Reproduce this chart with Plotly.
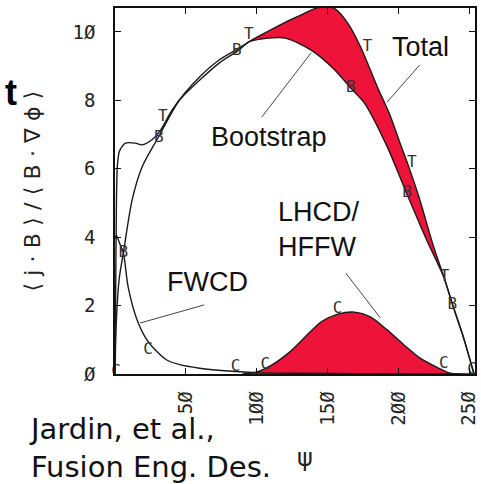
import plotly.graph_objects as go

# ---- data ----
boot_x = [0, 1.0, 3.0, 5.9, 12.1, 19.1, 30.3, 45.6, 60, 73.5, 87.4, 94.4, 108.4, 120.2,
          138.4, 155.1, 166.3, 176.0, 192.1, 203.9, 219.9, 231.8, 238.1, 245.7, 253.3]
boot_y = [0, 1.6, 2.8, 3.54, 5.09, 6.05, 6.90, 8.01, 8.6, 9.09, 9.47, 9.71, 9.82, 9.82,
          9.47, 8.89, 8.36, 7.92, 6.64, 5.47, 3.92, 2.85, 2.02, 1.08, 0]

total_x = [0, 0.5, 1.0, 1.7, 3.0, 5.2, 7.3, 14.2, 19.1, 26.1, 31.7, 40, 49, 60, 73.5, 87.4,
           94.4, 108, 120.4, 131.4, 141, 148, 155, 164.2, 173.3, 185.1, 193.5, 201.1, 208.1,
           214.4, 224.9, 231.8, 238.1, 245.7, 253.3]
total_y = [0, 2.5, 5.0, 6.1, 6.5, 6.66, 6.75, 6.75, 6.70, 6.85, 7.1, 7.7, 8.2, 8.7, 9.18, 9.52,
           9.71, 10.02, 10.29, 10.5, 10.68, 10.74, 10.68, 10.26, 9.56, 8.39, 7.62, 6.75, 5.96,
           5.18, 3.71, 2.87, 2.05, 1.1, 0]

fwcd_x = [0, 1.0, 3.0, 5.9, 9.3, 15.6, 22.6, 29, 36.5, 45, 59.6, 82.6, 100, 130, 170, 253]
fwcd_y = [3.95, 4.05, 3.85, 3.54, 2.54, 1.58, 0.99, 0.68, 0.41, 0.28, 0.17, 0.08, 0.04, 0.02, 0.01, 0]

lhcd_x = [90, 99.3, 110.5, 122.3, 134.1, 145.3, 157.2, 169.0, 180.2, 192.0, 203.9, 215.0, 226.9, 236, 245]
lhcd_y = [0, 0.05, 0.26, 0.61, 1.08, 1.52, 1.75, 1.81, 1.67, 1.29, 0.85, 0.47, 0.20, 0.03, 0]

# symbols from the original plot
b_mark_x = [5.9, 31, 86, 166.3, 206, 238]
b_mark_y = [3.54, 6.9, 9.45, 8.36, 5.29, 2.02]
t_mark_x = [33.8, 94.4, 178, 209.5, 232.5]
t_mark_y = [7.51, 9.91, 9.56, 6.17, 2.84]
c_mark_x = [0.8, 23.3, 85, 106, 157, 232, 252]
c_mark_y = [0.05, 0.7, 0.2, 0.26, 1.9, 0.3, 0.12]

x_ticks = [50, 100, 150, 200, 250]
x_tick_text = ["5Ø", "1ØØ", "15Ø", "2ØØ", "25Ø"]
y_ticks = [0, 2, 4, 6, 8, 10]
y_tick_text = ["Ø", "2", "4", "6", "8", "1Ø"]

RED = "#ED1339"
LINE = "#1a1a1a"

fig = go.Figure()

# red band between total and bootstrap where they differ
lo, hi = 94.4, 231.8
band_top = [(x, y) for x, y in zip(total_x, total_y) if lo <= x <= hi]
band_bot = [(x, y) for x, y in zip(boot_x, boot_y) if lo <= x <= hi][::-1]
band = band_top + band_bot
fig.add_trace(go.Scatter(x=[p[0] for p in band], y=[p[1] for p in band],
                         fill="toself", fillcolor=RED, mode="lines",
                         line=dict(width=0, shape="spline", smoothing=0.8),
                         hoverinfo="skip", showlegend=False))

# LHCD bump filled
fig.add_trace(go.Scatter(x=lhcd_x, y=lhcd_y, fill="tozeroy", fillcolor=RED, mode="lines",
                         line=dict(color=LINE, width=1.4, shape="spline", smoothing=0.8),
                         showlegend=False))

for xs, ys in [(boot_x, boot_y), (total_x, total_y), (fwcd_x, fwcd_y)]:
    fig.add_trace(go.Scatter(x=xs, y=ys, mode="lines",
                             line=dict(color=LINE, width=1.4, shape="spline", smoothing=0.8),
                             showlegend=False))

for xs, ys, ch in [(b_mark_x, b_mark_y, "B"), (t_mark_x, t_mark_y, "T"), (c_mark_x, c_mark_y, "C")]:
    fig.add_trace(go.Scatter(x=xs, y=ys, mode="text", text=[ch] * len(xs),
                             textfont=dict(family="DejaVu Sans Mono", size=16, color="#333"),
                             cliponaxis=False, showlegend=False))

# leader lines
for x0, y0, x1, y1 in [(103.5, 7.51, 138.4, 9.39), (215.1, 9.04, 192.0, 7.95),
                       (162.8, 2.95, 187.2, 1.64), (63.0, 2.02, 17.7, 1.49)]:
    fig.add_shape(type="line", xref="x", yref="y", x0=x0, y0=y0, x1=x1, y1=y1,
                  line=dict(color="#444", width=1))

lab_font = dict(family="Liberation Sans, Arial", size=27, color="#111")
fig.add_annotation(x=215.8, y=9.56, text="Total", showarrow=False, font=lab_font)
fig.add_annotation(x=108.4, y=6.93, text="Bootstrap", showarrow=False, font=lab_font)
fig.add_annotation(x=113.9, y=4.21, text="LHCD/<br>HFFW", showarrow=False, font=lab_font,
                   xanchor="left", align="left")
fig.add_annotation(x=65.5, y=2.69, text="FWCD", showarrow=False, font=lab_font)

# outer texts
sp = "\u2004"
ytitle = sp.join(["⟨", "j", "·", "B", "⟩", "/", "⟨", "B", "·", "∇", "ϕ", "⟩"])
fig.add_annotation(xref="paper", yref="paper", x=-0.272, y=0.50, textangle=-90,
                   text=ytitle, showarrow=False,
                   font=dict(family="DejaVu Sans", size=22, color="#222"))
fig.add_annotation(xref="paper", yref="paper", x=-0.312, y=0.83, text="<b>t</b>",
                   showarrow=False, font=dict(family="Liberation Sans", size=36, color="#000"))
fig.add_annotation(xref="paper", yref="paper", x=0.527, y=-0.272, text="ψ",
                   showarrow=False, font=dict(family="DejaVu Sans", size=24, color="#222"))
fig.add_annotation(xref="paper", yref="paper", x=-0.245, y=-0.098, xanchor="left", yanchor="top",
                   align="left", text="Jardin, et al.,<br>Fusion Eng. Des.", showarrow=False,
                   font=dict(family="DejaVu Sans", size=29, color="#111"))

axis_common = dict(showline=True, linecolor="#111", linewidth=1.5, mirror="ticks",
                   ticks="inside", ticklen=6, tickcolor="#111", showgrid=False, zeroline=False,
                   tickfont=dict(family="DejaVu Sans Mono", size=19, color="#222"))
fig.update_xaxes(range=[0, 254], tickvals=x_ticks, ticktext=x_tick_text, tickangle=-90,
                 ticklabelstandoff=8, ticklabeloverflow="allow", **axis_common)
fig.update_yaxes(range=[0, 10.7], tickvals=y_ticks, ticktext=y_tick_text,
                 ticklabelstandoff=14, **axis_common)

fig.update_layout(width=481, height=484, margin=dict(l=115, r=2, t=8, b=110),
                  plot_bgcolor="white", paper_bgcolor="white", showlegend=False)

fig.write_html("out.html", config={"displayModeBar": False})
